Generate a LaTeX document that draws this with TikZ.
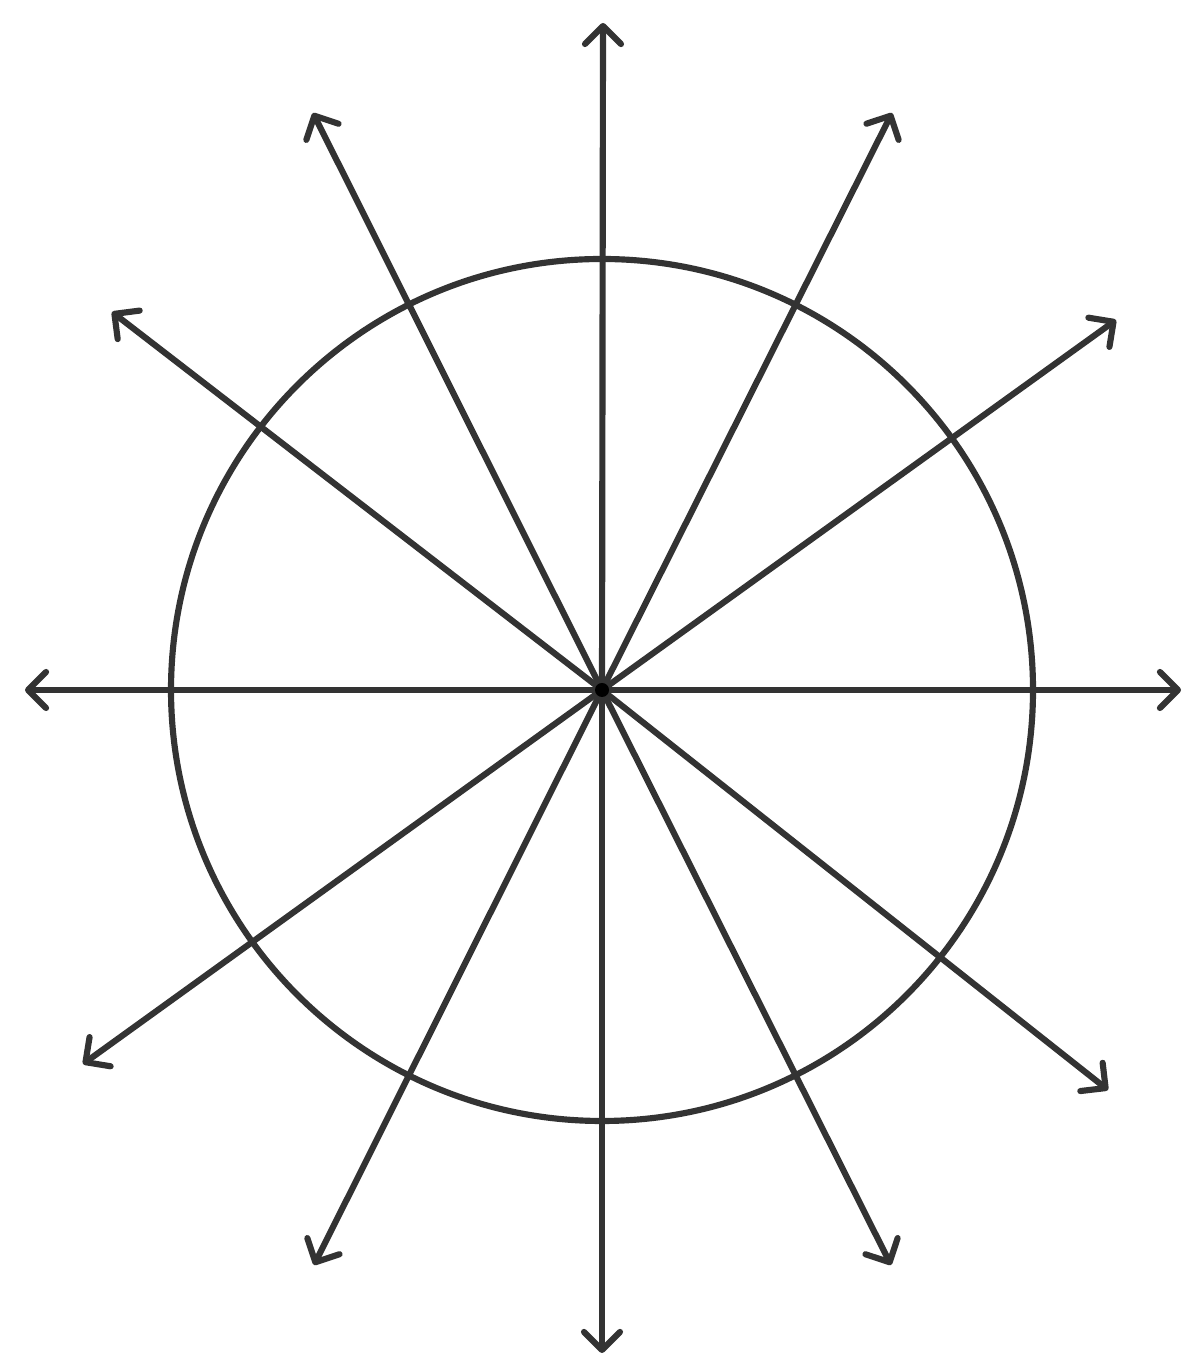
\documentclass[tikz,border=0pt]{standalone}
\usepackage{tikz}
\usetikzlibrary{arrows.meta}

\begin{document}
\begin{tikzpicture}[line width=1.75pt, draw=black!80,
  ray/.style={-{Straight Barb[length=0.18cm,width=0.36cm,round]}, line cap=round}]
\useasboundingbox (0,0) rectangle (12,13.69);
\coordinate (o) at (6.02,6.79);

\coordinate (t1) at (6.03,13.46);
\coordinate (t2) at (8.92,12.56);
\coordinate (t3) at (11.16,10.49);
\coordinate (t4) at (11.81,6.79);
\coordinate (t5) at (11.08,2.79);
\coordinate (t6) at (8.91,1.04);
\coordinate (t7) at (6.02,0.16);
\coordinate (t8) at (3.14,1.04);
\coordinate (t9) at (0.83,3.05);
\coordinate (t10) at (0.25,6.79);
\coordinate (t11) at (1.12,10.57);
\coordinate (t12) at (3.13,12.56);

\draw[black!80] (o) circle (4.31);
\foreach \to in {t1,t2,t3,t4,t5,t6,t7,t8,t9,t10,t11,t12}
\draw[ray, black!80] (o) -- (\to);
\fill[black] (o) circle (0.07);
\end{tikzpicture}
\end{document}
